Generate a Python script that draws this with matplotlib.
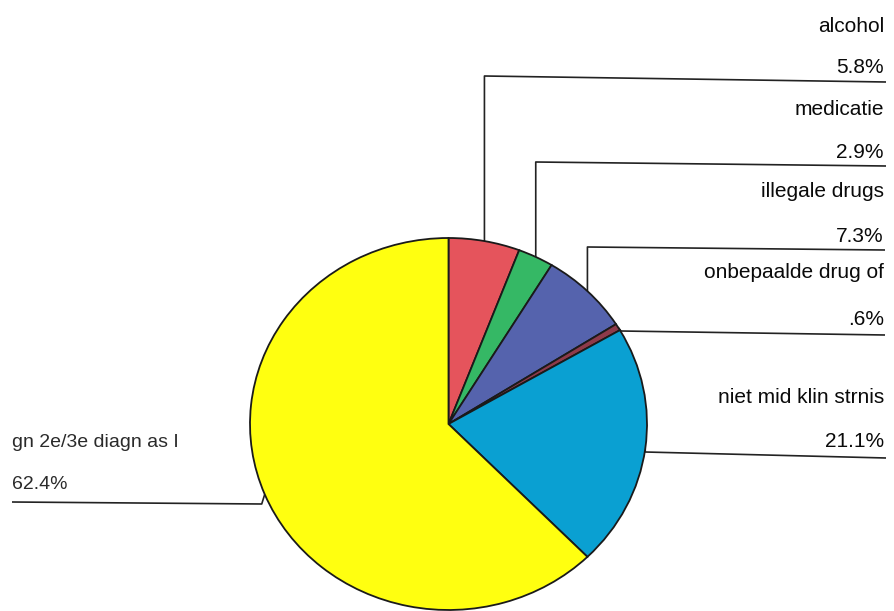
import matplotlib
matplotlib.use("Agg")
import matplotlib.pyplot as plt
import numpy as np

labels = ["alcohol", "medicatie", "illegale drugs", "onbepaalde drug of",
          "niet mid klin strnis", "gn 2e/3e diagn as I"]
values = [5.8, 2.9, 7.3, 0.6, 21.1, 62.4]
pct_labels = ["5.8%", "2.9%", "7.3%", ".6%", "21.1%", "62.4%"]
colors = ["#E5545C", "#35B865", "#5563AD", "#8E3A4A", "#0AA0D2", "#FFFF10"]

W, H = 895, 611
fig = plt.figure(figsize=(W / 100, H / 100), dpi=100)
fig.patch.set_facecolor("white")

# pie axes (elliptical pie as in the reference)
pl, pt, pw, ph = 250, 238, 397, 372
ax = fig.add_axes([pl / W, (H - pt - ph) / H, pw / W, ph / H])
wedges, _ = ax.pie(values, startangle=90, counterclock=False, colors=colors,
                   wedgeprops=dict(edgecolor="#1a1a1a", linewidth=1.3))
ax.set_aspect("auto")
ax.set_xlim(-1, 1)
ax.set_ylim(-1, 1)
ax.axis("off")

# overlay axes in pixel coordinates for leader lines and labels
ov = fig.add_axes([0, 0, 1, 1])
ov.set_xlim(0, W)
ov.set_ylim(H, 0)
ov.axis("off")
ov.set_zorder(-1)

fig.canvas.draw()
anchors = []
for w in wedges:
    mid = np.deg2rad((w.theta1 + w.theta2) / 2)
    disp = ax.transData.transform((np.cos(mid), np.sin(mid)))
    anchors.append(ov.transData.inverted().transform(disp))

# label layout: (name baseline, pct baseline, elbow y, end x, end y)
right_layout = [
    (32, 73, 76, 886, 82),
    (115, 158, 162, 886, 166),
    (197, 242, 247, 885, 250),
    (278, 325, None, 885, 335),
    (403, 447, 452, 886, 458),
]
txt_x = 884
line_kw = dict(color="#222222", lw=1.2, solid_capstyle="butt")
for i, (ny, py, ey, ex, eyy) in enumerate(right_layout):
    axx, ayy = anchors[i]
    if ey is None:
        xs, ys = [axx, axx + 3, ex], [ayy, 331, eyy]
    else:
        xs, ys = [axx, axx, ex], [ayy, ey, eyy]
    ov.plot(xs, ys, **line_kw)
    ov.text(txt_x, ny, labels[i], ha="right", va="baseline", fontsize=15,
            family="Liberation Sans", color="#0a0a0a")
    ov.text(txt_x, py, pct_labels[i], ha="right", va="baseline", fontsize=15,
            family="Liberation Sans", color="#0a0a0a")

# left label
axx, ayy = anchors[5]
ov.plot([axx, axx - 3, 12], [ayy, 504, 502], **line_kw)
ov.text(12, 447, labels[5], ha="left", va="baseline", fontsize=14,
        family="Liberation Sans", color="#2a2a2a")
ov.text(12, 489, pct_labels[5], ha="left", va="baseline", fontsize=14,
        family="Liberation Sans", color="#2a2a2a")

fig.savefig("out.png", dpi=100, facecolor="white")
